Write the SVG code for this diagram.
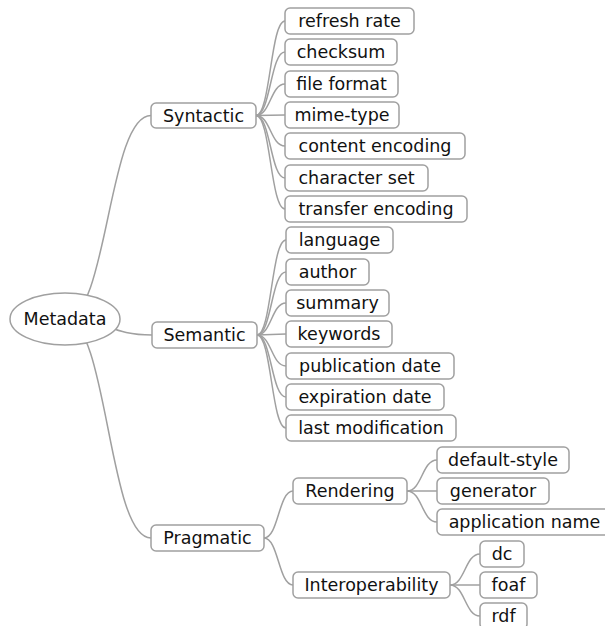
<svg xmlns="http://www.w3.org/2000/svg" width="605" height="626" viewBox="0 0 605 626">
<style>
.c path{fill:none;stroke:#a0a0a0;stroke-width:1.5}
.n rect{fill:#fff;stroke:#a0a0a0;stroke-width:1.5}
.n ellipse{fill:#fff;stroke:#a0a0a0;stroke-width:1.5}
.n text{font-family:"DejaVu Sans",Verdana,sans-serif;font-size:17.5px;fill:#111;text-anchor:middle}
</style>
<rect width="605" height="626" fill="#fff"/>
<g id="connectors" class="c">
<path d="M65,319 C108,319 108,115.5 151,115.5"/>
<path d="M65,319 C108.5,319 108.5,335 152,335"/>
<path d="M65,319 C108,319 108,538 151,538"/>
<path d="M256,115.5 C270.5,115.5 270.5,21 285,21"/>
<path d="M256,115.5 C270.5,115.5 270.5,52 285,52"/>
<path d="M256,115.5 C270.5,115.5 270.5,84 285,84"/>
<path d="M256,115.5 L285,115"/>
<path d="M256,115.5 C270.5,115.5 270.5,146 285,146"/>
<path d="M256,115.5 C270.5,115.5 270.5,178 285,178"/>
<path d="M256,115.5 C270.5,115.5 270.5,209 285,209"/>
<path d="M257,335 C271.5,335 271.5,240 286,240"/>
<path d="M257,335 C271.5,335 271.5,272 286,272"/>
<path d="M257,335 C271.5,335 271.5,303 286,303"/>
<path d="M257,335 L286,334"/>
<path d="M257,335 C271.5,335 271.5,366 286,366"/>
<path d="M257,335 C271.5,335 271.5,397 286,397"/>
<path d="M257,335 C271.5,335 271.5,428 286,428"/>
<path d="M264,538 C278.5,538 278.5,491 293,491"/>
<path d="M264,538 C278.5,538 278.5,585 293,585"/>
<path d="M407,491 C422,491 422,460 437,460"/>
<path d="M407,491 L437,491"/>
<path d="M407,491 C422,491 422,522 437,522"/>
<path d="M450,585 C465,585 465,554 480,554"/>
<path d="M450,585 L480,585"/>
<path d="M450,585 C465,585 465,616 480,616"/>
</g>
<g id="metadata" class="n"><ellipse cx="65" cy="319" rx="55" ry="26"/><text x="65" y="325">Metadata</text></g>
<g id="syntactic" class="n"><rect x="151" y="103" width="105" height="25" rx="5"/><text x="203.5" y="121.5">Syntactic</text></g>
<g id="semantic" class="n"><rect x="152" y="322" width="105" height="26" rx="5"/><text x="204.5" y="341">Semantic</text></g>
<g id="pragmatic" class="n"><rect x="151" y="525" width="113" height="26" rx="5"/><text x="207.5" y="544">Pragmatic</text></g>
<g id="refresh-rate" class="n"><rect x="285" y="8" width="129" height="26" rx="5"/><text x="349.5" y="27">refresh rate</text></g>
<g id="checksum" class="n"><rect x="285" y="39" width="112" height="26" rx="5"/><text x="341" y="58">checksum</text></g>
<g id="file-format" class="n"><rect x="285" y="71" width="113" height="26" rx="5"/><text x="341.5" y="90">file format</text></g>
<g id="mime-type" class="n"><rect x="285" y="102" width="114" height="26" rx="5"/><text x="342" y="121">mime-type</text></g>
<g id="content-encoding" class="n"><rect x="285" y="133" width="180" height="26" rx="5"/><text x="375" y="152">content encoding</text></g>
<g id="character-set" class="n"><rect x="285" y="165" width="143" height="26" rx="5"/><text x="356.5" y="184">character set</text></g>
<g id="transfer-encoding" class="n"><rect x="285" y="196" width="182" height="26" rx="5"/><text x="376" y="215">transfer encoding</text></g>
<g id="language" class="n"><rect x="286" y="227" width="107" height="26" rx="5"/><text x="339.5" y="246">language</text></g>
<g id="author" class="n"><rect x="286" y="259" width="83" height="26" rx="5"/><text x="327.5" y="278">author</text></g>
<g id="summary" class="n"><rect x="286" y="290" width="103" height="26" rx="5"/><text x="337.5" y="309">summary</text></g>
<g id="keywords" class="n"><rect x="286" y="321" width="106" height="26" rx="5"/><text x="339" y="340">keywords</text></g>
<g id="publication-date" class="n"><rect x="286" y="353" width="168" height="26" rx="5"/><text x="370" y="372">publication date</text></g>
<g id="expiration-date" class="n"><rect x="286" y="384" width="158" height="26" rx="5"/><text x="365" y="403">expiration date</text></g>
<g id="last-modification" class="n"><rect x="286" y="415" width="170" height="26" rx="5"/><text x="371" y="434">last modification</text></g>
<g id="rendering" class="n"><rect x="293" y="478" width="114" height="26" rx="5"/><text x="350" y="497">Rendering</text></g>
<g id="interoperability" class="n"><rect x="293" y="572" width="157" height="26" rx="5"/><text x="371.5" y="591">Interoperability</text></g>
<g id="default-style" class="n"><rect x="437" y="447" width="132" height="26" rx="5"/><text x="503" y="466">default-style</text></g>
<g id="generator" class="n"><rect x="437" y="478" width="112" height="26" rx="5"/><text x="493" y="497">generator</text></g>
<g id="application-name" class="n"><rect x="437" y="509" width="175" height="26" rx="5"/><text x="524.5" y="528">application name</text></g>
<g id="dc" class="n"><rect x="480" y="541" width="44" height="26" rx="5"/><text x="502" y="560">dc</text></g>
<g id="foaf" class="n"><rect x="480" y="572" width="57" height="26" rx="5"/><text x="508.5" y="591">foaf</text></g>
<g id="rdf" class="n"><rect x="480" y="603" width="47" height="26" rx="5"/><text x="503.5" y="622">rdf</text></g>
</svg>
